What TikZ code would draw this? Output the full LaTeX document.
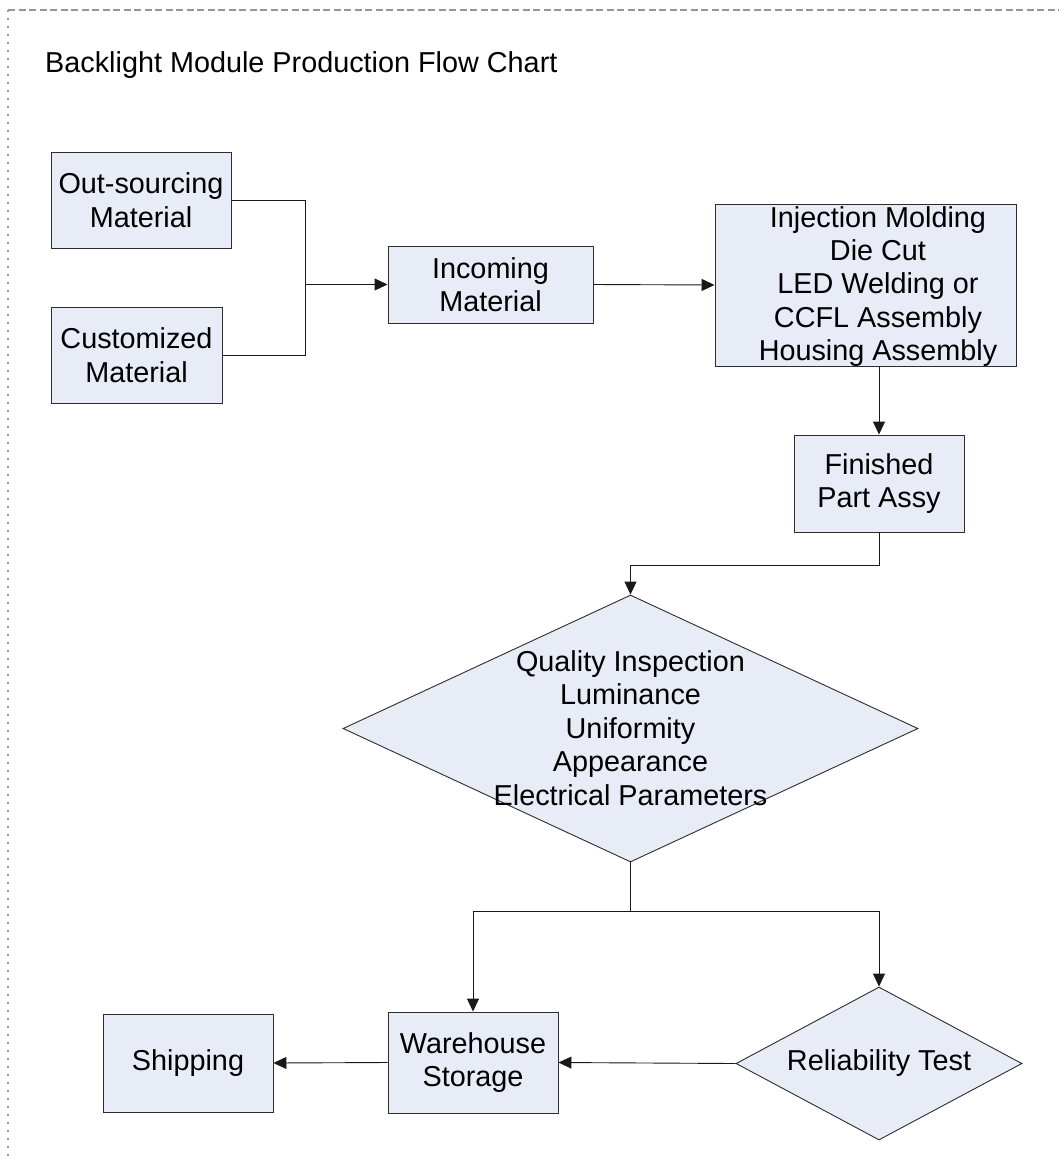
\documentclass[tikz,border=0pt]{standalone}
\usepackage{fontspec}
\setmainfont{Liberation Sans}
\usetikzlibrary{shapes.geometric,arrows.meta}
\definecolor{boxfill}{RGB}{231,236,247}
\definecolor{boxline}{RGB}{45,45,45}
\definecolor{framegray}{RGB}{150,150,150}
\tikzset{
  every node/.style={font=\fontsize{28.8}{33.4}\selectfont},
  procbox/.style={draw=boxline, line width=0.9pt, fill=boxfill, align=center, inner sep=0pt},
  decbox/.style={draw=boxline, line width=0.9pt, fill=boxfill, shape=diamond, inner sep=0pt},
  plaintext/.style={align=center, inner sep=0pt},
  flow/.style={line width=0.9pt, draw=black!90},
  flowarrow/.style={flow, -{Triangle[length=13pt,width=12pt]}},
}
\begin{document}
\begin{tikzpicture}[x=1pt,y=-1pt]
\useasboundingbox (0,0) rectangle (1059,1160);
% page frame
\draw[framegray, line width=1.2pt, dash pattern=on 7pt off 3.5pt] (8,10) -- (1059,10);
\draw[framegray, line width=1.2pt, dash pattern=on 2pt off 6pt] (8,10) -- (8,1160);
% title
\node[anchor=base west, inner sep=0pt] (title) at (45,72) {Backlight Module Production Flow Chart};
% boxes
\node[procbox, minimum width=180pt, minimum height=96pt] (out) at (141,200) {Out-sourcing\\Material};
\node[procbox, minimum width=171pt, minimum height=96pt] (cust) at (136.5,355) {Customized\\Material};
\node[procbox, minimum width=205pt, minimum height=77pt] (inc) at (490.5,284.5) {Incoming\\Material};
\node[procbox, minimum width=301pt, minimum height=162pt] (inj) at (865.5,285) {};
\node[plaintext] (injtext) at (878,286.5) {Injection Molding\\Die Cut\\LED Welding or\\CCFL Assembly\\Housing Assembly};
\node[procbox, minimum width=170pt, minimum height=97pt] (fin) at (879,483.5) {Finished\\Part Assy};
\node[decbox, minimum width=575pt, minimum height=267pt] (qi) at (630.5,728.5) {};
\node[plaintext] (qitext) at (630.5,728) {Quality Inspection\\Luminance\\Uniformity\\Appearance\\Electrical Parameters};
\node[procbox, minimum width=170pt, minimum height=101pt] (wh) at (473,1062.5) {Warehouse\\Storage};
\node[decbox, minimum width=286pt, minimum height=153pt] (rel) at (879,1063.5) {};
\node[plaintext] (reltext) at (879,1063.5) {Reliability Test};
\node[procbox, minimum width=170pt, minimum height=98pt] (ship) at (188,1063) {Shipping};
% junctions
\coordinate (j1) at (305,284.5);
\coordinate (j2) at (879,565);
\coordinate (j3) at (630.5,911);
% connectors
\draw[flow] (out.east) -| (j1);
\draw[flow] (cust.east) -| (j1);
\draw[flowarrow] (j1) -- (inc.west);
\draw[flowarrow] (inc.east) -- (inj.west);
\draw[flowarrow] (fin.north |- inj.south) -- (fin.north);
\draw[flowarrow] (fin.south) -- (j2) -| (qi.north);
\draw[flow] (qi.south) -- (j3);
\draw[flowarrow] (j3) -| (wh.north);
\draw[flowarrow] (j3) -| (rel.north);
\draw[flowarrow] (rel.west) -- (wh.east);
\draw[flowarrow] (wh.west) -- (ship.east);
\end{tikzpicture}
\end{document}
